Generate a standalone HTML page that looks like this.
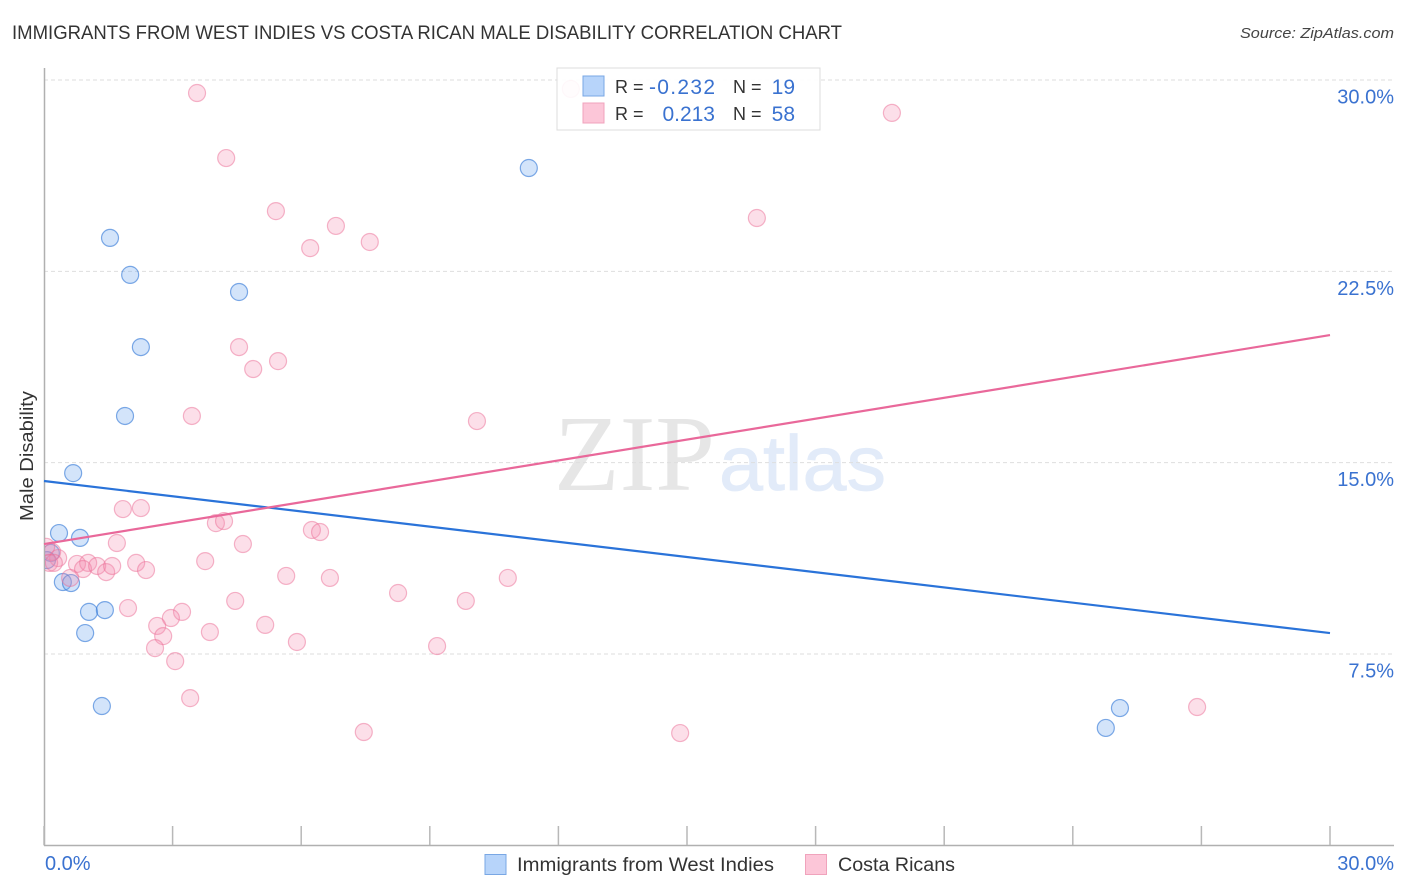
<!DOCTYPE html>
<html lang="en">
<head>
<meta charset="utf-8">
<title>Immigrants from West Indies vs Costa Rican Male Disability Correlation Chart</title>
<style>
html,body{margin:0;padding:0;background:#fff;width:1406px;height:892px;overflow:hidden}
svg{display:block;font-family:"Liberation Sans",sans-serif}
</style>
</head>
<body>
<svg id="chart" xmlns="http://www.w3.org/2000/svg" width="1406" height="892" viewBox="0 0 1406 892">
  <defs><clipPath id="plot-clip"><rect x="45" y="60" width="1350" height="785"/></clipPath></defs>
  <text x="12" y="39" font-size="19" fill="#333" textLength="830" lengthAdjust="spacingAndGlyphs">IMMIGRANTS FROM WEST INDIES VS COSTA RICAN MALE DISABILITY CORRELATION CHART</text>
  <text x="1394" y="38" font-size="15" font-style="italic" fill="#444" text-anchor="end" textLength="154" lengthAdjust="spacingAndGlyphs">Source: ZipAtlas.com</text>

  <g>
    <text x="554" y="490" font-family="'Liberation Serif',serif" font-size="108" fill="#e6e6e6" textLength="161" lengthAdjust="spacingAndGlyphs">ZIP</text>
    <text x="719" y="490" font-size="78" fill="#e2ebf9" stroke="#e2ebf9" stroke-width="0.8" textLength="167" lengthAdjust="spacingAndGlyphs">atlas</text>
  </g>

  <g id="grid"></g>
  <g id="axes"></g>
  <g id="series-blue" clip-path="url(#plot-clip)"></g>
  <g id="series-pink" clip-path="url(#plot-clip)"></g>
  <g id="trends"></g>

  <text transform="translate(33,456) rotate(-90)" font-size="18" fill="#333" text-anchor="middle" textLength="130" lengthAdjust="spacingAndGlyphs">Male Disability</text>

  <g>
    <rect x="557" y="68" width="263" height="62" fill="#fff" fill-opacity="0.9" stroke="#dcdcdc" stroke-width="1"/>
    <rect x="583" y="76" width="21" height="20" fill="#b7d4fa" stroke="#79a7e4" stroke-width="1"/>
    <rect x="583" y="103" width="21" height="20" fill="#fcc6d8" stroke="#f0a3bc" stroke-width="1"/>
    <text x="615" y="93" font-size="18" fill="#333">R =</text>
    <text x="715" y="94" font-size="21" fill="#3a72d0" text-anchor="end" textLength="66" lengthAdjust="spacing">-0.232</text>
    <text x="733" y="93" font-size="18" fill="#333">N =</text>
    <text x="795" y="94" font-size="21" fill="#3a72d0" text-anchor="end">19</text>
    <text x="615" y="120" font-size="18" fill="#333">R =</text>
    <text x="715" y="121" font-size="21" fill="#3a72d0" text-anchor="end">0.213</text>
    <text x="733" y="120" font-size="18" fill="#333">N =</text>
    <text x="795" y="121" font-size="21" fill="#3a72d0" text-anchor="end">58</text>
  </g>

  <g>
    <rect x="485" y="854.500" width="21" height="20" fill="#b7d4fa" stroke="#79a7e4" stroke-width="1"/>
    <text x="517" y="871" font-size="19" fill="#333" textLength="257" lengthAdjust="spacingAndGlyphs">Immigrants from West Indies</text>
    <rect x="805.500" y="854.500" width="21" height="20" fill="#fcc6d8" stroke="#f0a3bc" stroke-width="1"/>
    <text x="838" y="871" font-size="19" fill="#333" textLength="117" lengthAdjust="spacingAndGlyphs">Costa Ricans</text>
  </g>
</svg>
<script>
const yTicks = [7.5, 15, 22.5, 30];
const yTickLabels = ['7.5%', '15.0%', '22.5%', '30.0%'];
const xTicks = [0, 3, 6, 9, 12, 15, 18, 21, 24, 27, 30];
const xEndLabels = ['0.0%', '30.0%'];

const blueX = [1.54,2.01,4.55,2.26,1.89,0.68,0.35,0.84,0.16,0.07,0.44,0.63,1.05,1.42,0.96,1.35,11.31,24.77,25.10];
const blueY = [23.81,22.36,21.69,19.53,16.83,14.59,12.24,12.05,11.46,11.18,10.32,10.28,9.15,9.22,8.32,5.46,26.55,4.60,5.38];

const pinkX = [3.57,4.25,5.41,6.81,6.21,7.60,12.29,19.78,16.63,4.55,5.46,4.88,3.45,10.10,1.84,2.26,4.01,4.20,4.64,6.25,6.44,1.70,2.15,2.38,3.76,5.65,6.67,10.82,8.26,9.84,4.46,1.96,3.22,2.96,2.64,2.78,3.87,5.16,5.90,9.17,2.59,3.06,3.41,7.46,14.84,26.90,0.77,1.03,0.91,1.24,1.45,1.59,0.61,0.33,0.19,0.05,0.12,0.23];
const pinkY = [29.49,26.94,24.86,24.28,23.41,23.65,29.65,28.71,24.59,19.53,18.98,18.67,16.83,16.63,13.18,13.22,12.63,12.71,11.81,12.36,12.28,11.85,11.07,10.79,11.14,10.56,10.48,10.48,9.89,9.58,9.58,9.30,9.15,8.91,8.60,8.20,8.36,8.64,7.97,7.81,7.73,7.22,5.77,4.44,4.40,5.42,11.03,11.07,10.83,10.95,10.71,10.95,10.48,11.26,11.50,11.70,11.07,11.07];

const blueTrend = [14.28, 8.32];
const pinkTrend = [11.81, 20.0];
const trendDomain = [0, 30];

const NS = 'http://www.w3.org/2000/svg';
function xScale(v) { return 44 + v * (1330 - 44) / 30; }
function yScale(v) { return 845.3 - v * (845.3 - 80) / 30; }
function make(tag, attrs, parent, text) {
  const el = document.createElementNS(NS, tag);
  for (const k in attrs) el.setAttribute(k, attrs[k]);
  if (text !== undefined) el.textContent = text;
  parent.appendChild(el);
  return el;
}

const grid = document.getElementById('grid');
const axes = document.getElementById('axes');

yTicks.forEach(function (t, i) {
  const line = make('line', {x1: 44, x2: 1394, y1: yScale(t), y2: yScale(t), stroke: '#dedede', 'stroke-width': 1, 'stroke-dasharray': '4 3'}, grid);
  
  
  const label = make('text', {x: 1394, y: yScale(t) + 23.500, 'font-size': 20, fill: '#3a72d0', 'text-anchor': 'end'}, axes, yTickLabels[i]);
  
  
});

const yAxis = make('line', {x1: 44.500, x2: 44.500, y1: 68, y2: 846, stroke: '#b0b0b0', 'stroke-width': 1.5}, axes);


const xAxis = make('line', {x1: 44, x2: 1394, y1: 845.500, y2: 845.500, stroke: '#b0b0b0', 'stroke-width': 1.5}, axes);



xTicks.forEach(function (t) {
  const tick = make('line', {x1: xScale(t), x2: xScale(t), y1: 826, y2: 845, stroke: '#b8b8b8', 'stroke-width': 1.5}, axes);
  
  
});

const xLabelStart = make('text', {x: 45, y: 870, 'font-size': 20, fill: '#3a72d0'}, axes, xEndLabels[0]);


const xLabelEnd = make('text', {x: 1394, y: 870, 'font-size': 20, fill: '#3a72d0', 'text-anchor': 'end'}, axes, xEndLabels[1]);



const blueGroup = document.getElementById('series-blue');
blueX.forEach(function (v, i) {
  const c = make('circle', {cx: xScale(v), cy: yScale(blueY[i]), r: 8.5, fill: 'rgba(110,165,240,0.3)', stroke: 'rgba(50,120,215,0.62)', 'stroke-width': 1.2}, blueGroup);
  
  
});

const pinkGroup = document.getElementById('series-pink');
pinkX.forEach(function (v, i) {
  const c = make('circle', {cx: xScale(v), cy: yScale(pinkY[i]), r: 8.5, fill: 'rgba(245,140,175,0.28)', stroke: 'rgba(235,110,150,0.5)', 'stroke-width': 1.2}, pinkGroup);
  
  
});

const trends = document.getElementById('trends');
const blueLine = make('line', {x1: xScale(trendDomain[0]), x2: xScale(trendDomain[1]), y1: yScale(blueTrend[0]), y2: yScale(blueTrend[1]), stroke: '#2a73d9', 'stroke-width': 2.2}, trends);


const pinkLine = make('line', {x1: xScale(trendDomain[0]), x2: xScale(trendDomain[1]), y1: yScale(pinkTrend[0]), y2: yScale(pinkTrend[1]), stroke: '#e9689a', 'stroke-width': 2.2}, trends);


</script>
</body>
</html>
